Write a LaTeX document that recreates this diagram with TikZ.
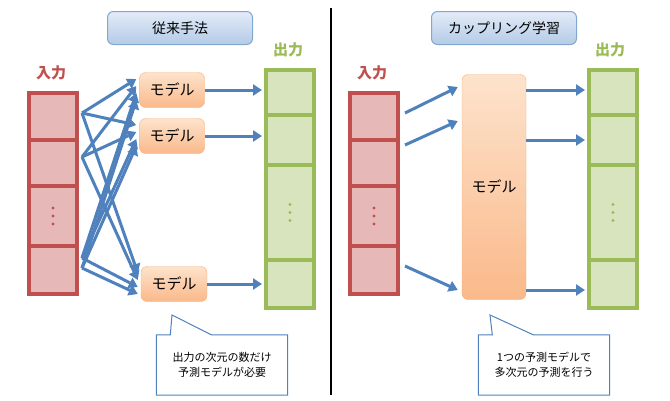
\documentclass[tikz,border=0pt]{standalone}
\usepackage{fontspec}
\setmainfont{Noto Sans CJK JP}
\usepackage{tikz}
\usetikzlibrary{arrows.meta,positioning,calc,shadings}
\definecolor{inred}{HTML}{C0504D}
\definecolor{infill}{HTML}{E6B9B8}
\definecolor{outgreen}{HTML}{9BBB59}
\definecolor{outfill}{HTML}{D7E4BD}
\definecolor{arrblue}{HTML}{4F81BD}
\definecolor{modtop}{HTML}{FDE3CC}
\definecolor{modbot}{HTML}{FAB98A}
\definecolor{modline}{HTML}{F6B07A}
\definecolor{titletop}{HTML}{E3ECF8}
\definecolor{titlebot}{HTML}{B4CAE6}
\newcommand{\celldots}[2]{\foreach \d in {-8,0,8} \fill [#2] ($(#1.center)+(0,\d)$) circle (1.6pt);}

\begin{document}
\begin{tikzpicture} [
  x=1pt, y=-1pt,
  in cell/.style= {draw=inred,line width=4pt,fill=infill,minimum width=48pt,anchor=north west,inner sep=0},
  out cell/.style= {draw=outgreen,line width=4pt,fill=outfill,minimum width=48pt,anchor=north west,inner sep=0},
  model/.style= {draw=modline,rounded corners=6pt,top color=modtop,bottom color=modbot,font=\fontsize{15}{18}\selectfont,inner sep=0},
  title/.style= {draw=arrblue!70,line width=1pt,rounded corners=6pt,top color=titletop,bottom color=titlebot,minimum width=145pt,minimum height=33pt,font=\fontsize{14}{17}\selectfont},
  head/.style= {font=\fontsize{15}{18}\selectfont\bfseries},
  flow/.style= {draw=arrblue,line width=3pt,-{Triangle[length=9pt,width=11pt]}},
  callout/.style= {draw=arrblue,line width=1pt}
]
\useasboundingbox (0,0) rectangle (670,400);
% titles and divider
\node (t1) [title] at (180,28) {従来手法};
\node (t2) [title] at (504,28) {カップリング学習};
\draw [line width=2pt] (331,8) -- (331,395);

% left input
\node (lin) [text=inred,head] at (51,73) {入力};
\node (li1) [in cell,minimum height=47pt] at (27,91) {};
\node (li2) [in cell,minimum height=46pt] at (27,138) {};
\node (li3) [in cell,minimum height=60pt] at (27,184) {};
\node (li4) [in cell,minimum height=48pt] at (27,244) {};
\celldots{li3}{inred}

% left output
\node (lout) [text=outgreen,head] at (288,50) {出力};
\node (lo1) [out cell,minimum height=45pt] at (264,68) {};
\node (lo2) [out cell,minimum height=50pt] at (264,113) {};
\node (lo3) [out cell,minimum height=95pt] at (264,163) {};
\node (lo4) [out cell,minimum height=48pt] at (264,258) {};
\celldots{lo3}{outgreen}

% left models
\node (m1) [model,minimum width=65pt,minimum height=35pt] at (172,90) {モデル};
\node (m2) [model,minimum width=65pt,minimum height=35pt] at (172,136) {モデル};
\node (m3) [model,minimum width=66pt,minimum height=35pt] at (174,284) {モデル};

\coordinate (s1) at (82,113);
\coordinate (s2) at (82,157);
\coordinate (s3) at (82,258);
\coordinate (s4) at (82,268);
\foreach \s/\dy in {1/-11,2/-4,3/3,4/10} {
  \foreach \m in {1,2,3}
    \draw [flow] (s\s) -- ($(m\m.west)+(-3,\dy)$);
}
\foreach \m/\o in {1/1,2/2,3/4}
  \draw [flow] (m\m.east) -- ($(lo\o.west |- m\m.east)+(-2,0)$);

% left callout
\node (c1) [minimum width=131pt,minimum height=60pt,font=\fontsize{11}{15}\selectfont,align=center] at (222,365) {出力の次元の数だけ\\予測モデルが必要};
\draw [callout] (c1.north west) -- ($(c1.north west)+(14,0)$) -- (172,315) -- ($(c1.north west)+(55,0)$) -- (c1.north east) -- (c1.south east) -- (c1.south west) -- cycle;

% right input
\node (rin) [text=inred,head] at (372,73) {入力};
\node (ri1) [in cell,minimum height=47pt] at (348,91) {};
\node (ri2) [in cell,minimum height=46pt] at (348,138) {};
\node (ri3) [in cell,minimum height=60pt] at (348,184) {};
\node (ri4) [in cell,minimum height=48pt] at (348,244) {};
\celldots{ri3}{inred}

% right output
\node (rout) [text=outgreen,head] at (610,50) {出力};
\node (ro1) [out cell,minimum height=45pt] at (587,68) {};
\node (ro2) [out cell,minimum height=50pt] at (587,113) {};
\node (ro3) [out cell,minimum height=95pt] at (587,163) {};
\node (ro4) [out cell,minimum height=48pt] at (587,258) {};
\celldots{ro3}{outgreen}

% right model
\node (mm) [model,minimum width=64pt,minimum height=225pt] at (494,187) {モデル};
\coordinate (r1) at (405,113);
\coordinate (r2) at (405,145);
\coordinate (r3) at (405,266);
\draw [flow] (r1) -- ($(mm.west)+(-4,-100)$);
\draw [flow] (r2) -- ($(mm.west)+(-4,-66)$);
\draw [flow] (r3) -- ($(mm.west)+(-4,103)$);
\foreach \y/\o in {90/1,140/2,290/4}
  \draw [flow] (mm.east |- 0,\y) -- ($(ro\o.west |- 0,\y)+(-2,0)$);

% right callout
\node (c2) [minimum width=131pt,minimum height=60pt,font=\fontsize{11}{15}\selectfont,align=center] at (544,365) {1つの予測モデルで\\多次元の予測を行う};
\draw [callout] (c2.north west) -- ($(c2.north west)+(14,0)$) -- (490,315) -- ($(c2.north west)+(55,0)$) -- (c2.north east) -- (c2.south east) -- (c2.south west) -- cycle;
\end{tikzpicture}
\end{document}
